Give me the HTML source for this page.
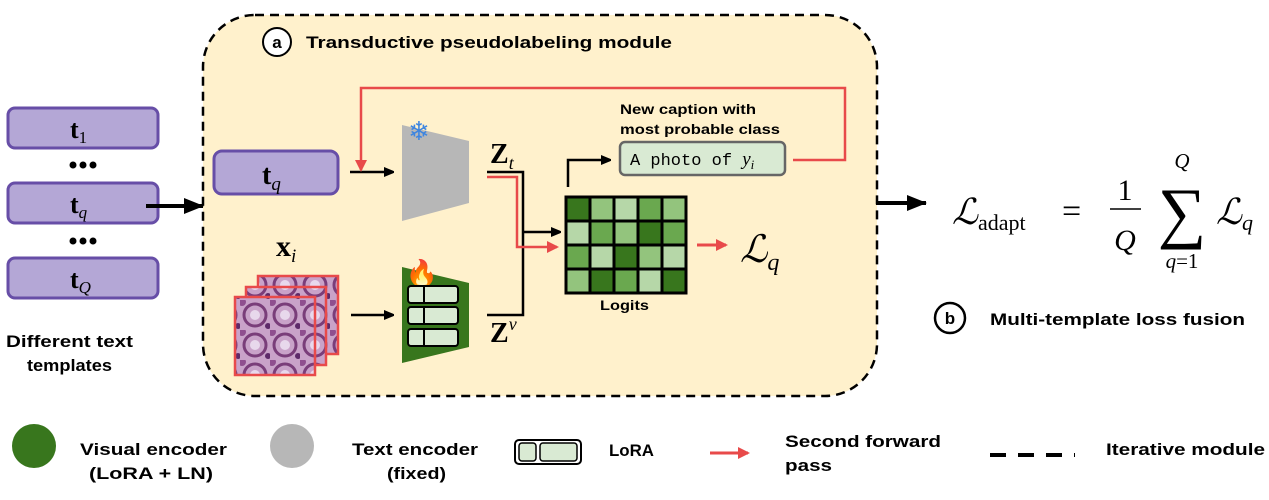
<!DOCTYPE html>
<html><head><meta charset="utf-8"><style>
html,body{margin:0;padding:0;background:#fff;}
svg{display:block;}
.s{font-family:"Liberation Sans",sans-serif;font-weight:bold;}
.m{font-family:"Liberation Serif",serif;}
</style></head><body>
<svg width="1269" height="500" viewBox="0 0 1269 500" xmlns="http://www.w3.org/2000/svg">
<defs>
<marker id="ab" markerWidth="10" markerHeight="10" refX="9" refY="5" orient="auto" markerUnits="userSpaceOnUse"><path d="M0,0 L12,5 L0,10Z" fill="#000"/></marker>
<marker id="ar" markerWidth="12" markerHeight="12" refX="10" refY="6" orient="auto" markerUnits="userSpaceOnUse"><path d="M0,0 L12,6 L0,12Z" fill="#e84a4a"/></marker>
<marker id="abig" markerWidth="20" markerHeight="20" refX="19" refY="10" orient="auto" markerUnits="userSpaceOnUse"><path d="M0,2 L20,10 L0,18Z" fill="#000"/></marker>
<pattern id="tis" width="30" height="30" patternUnits="userSpaceOnUse">
<rect width="30" height="30" fill="#c9a2c9"/>
<circle cx="15" cy="15" r="11" fill="none" stroke="#7a3d7a" stroke-width="3"/>
<circle cx="15" cy="15" r="5" fill="#e8d8ec"/>
<circle cx="2" cy="2" r="4" fill="#8f4f8f"/>
<circle cx="28" cy="26" r="3" fill="#5e2a6a"/>
</pattern>
</defs>
<rect x="203" y="15" width="674" height="381" rx="52" fill="#fff1cc" stroke="#000" stroke-width="2.5" stroke-dasharray="9,6"/>
<circle cx="277" cy="42" r="14" fill="#fff" stroke="#000" stroke-width="2"/>
<text x="277" y="48" class="s" font-size="17" text-anchor="middle">a</text>
<text x="306" y="48" class="s" font-size="17" textLength="366" lengthAdjust="spacingAndGlyphs">Transductive pseudolabeling module</text>

<g fill="#b4a7d6" stroke="#674ea7" stroke-width="3">
<rect x="8" y="108" width="150" height="40" rx="7"/>
<rect x="8" y="183" width="150" height="40" rx="7"/>
<rect x="8" y="258" width="150" height="40" rx="7"/>
</g>
<text x="70" y="138" class="m" font-size="26" font-weight="bold">t<tspan font-size="17" font-weight="normal" dy="5">1</tspan></text>
<text x="70" y="213" class="m" font-size="26" font-weight="bold">t<tspan font-size="17" font-style="italic" font-weight="normal" dy="5">q</tspan></text>
<text x="70" y="288" class="m" font-size="26" font-weight="bold">t<tspan font-size="17" font-style="italic" font-weight="normal" dy="5">Q</tspan></text>
<g fill="#000"><circle cx="73" cy="165" r="3.5"/><circle cx="83" cy="165" r="3.5"/><circle cx="93" cy="165" r="3.5"/>
<circle cx="73" cy="241" r="3.5"/><circle cx="83" cy="241" r="3.5"/><circle cx="93" cy="241" r="3.5"/></g>
<text x="6" y="347" class="s" font-size="17" textLength="127" lengthAdjust="spacingAndGlyphs">Different text</text>
<text x="27" y="371" class="s" font-size="17" textLength="85" lengthAdjust="spacingAndGlyphs">templates</text>
<line x1="146" y1="206" x2="203" y2="206" stroke="#000" stroke-width="4" marker-end="url(#abig)"/>

<rect x="214" y="151" width="124" height="43" rx="8" fill="#b4a7d6" stroke="#674ea7" stroke-width="3"/>
<text x="262" y="184" class="m" font-size="28" font-weight="bold">t<tspan font-size="19" font-style="italic" font-weight="normal" dy="6">q</tspan></text>
<line x1="350" y1="172" x2="393" y2="172" stroke="#000" stroke-width="2.5" marker-end="url(#ab)"/>
<polyline points="793,160 845,160 845,88 361,88 361,170" fill="none" stroke="#e84a4a" stroke-width="2.5" marker-end="url(#ar)"/>
<polygon points="402,125 469,141 469,203 402,221" fill="#b7b7b7"/>
<text x="419" y="140" font-size="26" fill="#3d85e0" text-anchor="middle" font-family="DejaVu Sans">❄</text>
<text x="490" y="163" class="m" font-size="28" font-weight="bold">Z<tspan font-size="18" font-style="italic" font-weight="normal" dy="6">t</tspan></text>
<polygon points="402,267 469,283 469,347 402,363" fill="#38761d"/>
<text x="422" y="282" font-size="26" text-anchor="middle" font-family="DejaVu Sans" fill="#f05a22">🔥</text>
<g fill="#d9ead3" stroke="#000" stroke-width="2">
<rect x="408" y="286" width="50" height="17" rx="3"/><line x1="424" y1="286" x2="424" y2="303"/>
<rect x="408" y="307" width="50" height="17" rx="3"/><line x1="424" y1="307" x2="424" y2="324"/>
<rect x="408" y="329" width="50" height="17" rx="3"/><line x1="424" y1="329" x2="424" y2="346"/>
</g>
<text x="490" y="342" class="m" font-size="28" font-weight="bold">Z<tspan font-size="18" font-style="italic" font-weight="normal" dy="-12">v</tspan></text>
<text x="276" y="256" class="m" font-size="30" font-weight="bold">x<tspan font-size="19" font-style="italic" font-weight="normal" dy="6">i</tspan></text>
<rect x="258" y="276" width="80" height="78" fill="url(#tis)" stroke="#e84a4a" stroke-width="2.5"/>
<rect x="246" y="287" width="80" height="78" fill="url(#tis)" stroke="#e84a4a" stroke-width="2.5"/>
<rect x="235" y="297" width="80" height="78" fill="url(#tis)" stroke="#e84a4a" stroke-width="2.5"/>
<line x1="351" y1="315" x2="393" y2="315" stroke="#000" stroke-width="2.5" marker-end="url(#ab)"/>
<polyline points="487,172 523,172 523,315 487,315" fill="none" stroke="#000" stroke-width="2.5"/>
<line x1="523" y1="232" x2="560" y2="232" stroke="#000" stroke-width="2.5" marker-end="url(#ab)"/>
<polyline points="487,177 517,177 517,247 557,247" fill="none" stroke="#e84a4a" stroke-width="2.5" marker-end="url(#ar)"/>
<polyline points="568,187 568,160 610,160" fill="none" stroke="#000" stroke-width="2.5" marker-end="url(#ab)"/>
<text x="620" y="114" class="s" font-size="14" textLength="136" lengthAdjust="spacingAndGlyphs">New caption with</text>
<text x="620" y="134" class="s" font-size="14" textLength="160" lengthAdjust="spacingAndGlyphs">most probable class</text>
<rect x="620" y="142" width="165" height="33" rx="5" fill="#d9ead3" stroke="#666" stroke-width="2.5"/>
<text x="630" y="165" font-family="Liberation Mono,monospace" font-size="17">A photo of <tspan class="m" font-style="italic" font-size="19">y</tspan><tspan class="m" font-style="italic" font-size="13" dy="4">i</tspan></text>
<g stroke="#000" stroke-width="3">
<rect x="566" y="197" width="24" height="24" fill="#38761d"/><rect x="590" y="197" width="24" height="24" fill="#93c47d"/><rect x="614" y="197" width="24" height="24" fill="#b6d7a8"/><rect x="638" y="197" width="24" height="24" fill="#6aa84f"/><rect x="662" y="197" width="24" height="24" fill="#93c47d"/>
<rect x="566" y="221" width="24" height="24" fill="#b6d7a8"/><rect x="590" y="221" width="24" height="24" fill="#6aa84f"/><rect x="614" y="221" width="24" height="24" fill="#93c47d"/><rect x="638" y="221" width="24" height="24" fill="#38761d"/><rect x="662" y="221" width="24" height="24" fill="#6aa84f"/>
<rect x="566" y="245" width="24" height="24" fill="#6aa84f"/><rect x="590" y="245" width="24" height="24" fill="#b6d7a8"/><rect x="614" y="245" width="24" height="24" fill="#38761d"/><rect x="638" y="245" width="24" height="24" fill="#93c47d"/><rect x="662" y="245" width="24" height="24" fill="#b6d7a8"/>
<rect x="566" y="269" width="24" height="24" fill="#93c47d"/><rect x="590" y="269" width="24" height="24" fill="#38761d"/><rect x="614" y="269" width="24" height="24" fill="#6aa84f"/><rect x="638" y="269" width="24" height="24" fill="#b6d7a8"/><rect x="662" y="269" width="24" height="24" fill="#38761d"/>
</g>
<text x="600" y="310" class="s" font-size="14" textLength="49" lengthAdjust="spacingAndGlyphs">Logits</text>
<line x1="697" y1="245" x2="726" y2="245" stroke="#e84a4a" stroke-width="3" marker-end="url(#ar)"/>
<text x="740" y="262" class="m" font-size="38" font-style="italic">ℒ<tspan font-size="24" dy="8">q</tspan></text>

<line x1="876" y1="203" x2="926" y2="203" stroke="#000" stroke-width="4" marker-end="url(#abig)"/>
<text x="952" y="224" class="m" font-size="36" font-style="italic">ℒ<tspan font-size="22" font-style="normal" dy="6">adapt</tspan></text>
<text x="1062" y="222" class="m" font-size="34">=</text>
<text x="1125" y="200" class="m" font-size="30" text-anchor="middle">1</text>
<line x1="1110" y1="209" x2="1141" y2="209" stroke="#000" stroke-width="1.5"/>
<text x="1125" y="250" class="m" font-size="30" font-style="italic" text-anchor="middle">Q</text>
<text x="1182" y="235" class="m" font-size="68" text-anchor="middle">∑</text>
<text x="1182" y="168" class="m" font-size="21" font-style="italic" text-anchor="middle">Q</text>
<text x="1182" y="268" class="m" font-size="21" text-anchor="middle"><tspan font-style="italic">q</tspan>=1</text>
<text x="1216" y="224" class="m" font-size="36" font-style="italic">ℒ<tspan font-size="22" dy="6">q</tspan></text>
<circle cx="950" cy="318" r="15" fill="#fff" stroke="#000" stroke-width="2.5"/>
<text x="950" y="324" class="s" font-size="17" text-anchor="middle">b</text>
<text x="990" y="325" class="s" font-size="17" textLength="255" lengthAdjust="spacingAndGlyphs">Multi-template loss fusion</text>

<ellipse cx="34" cy="446" rx="22" ry="22" fill="#38761d"/>
<text x="80" y="455" class="s" font-size="17" textLength="147" lengthAdjust="spacingAndGlyphs">Visual encoder</text>
<text x="89" y="479" class="s" font-size="17" textLength="124" lengthAdjust="spacingAndGlyphs">(LoRA + LN)</text>
<ellipse cx="292" cy="446" rx="22" ry="22" fill="#b7b7b7"/>
<text x="352" y="455" class="s" font-size="17" textLength="126" lengthAdjust="spacingAndGlyphs">Text encoder</text>
<text x="387" y="479" class="s" font-size="17" textLength="59" lengthAdjust="spacingAndGlyphs">(fixed)</text>
<rect x="515" y="440" width="66" height="24" rx="4" fill="#fff" stroke="#000" stroke-width="2"/>
<rect x="519" y="443" width="17" height="18" rx="3" fill="#d9ead3" stroke="#000" stroke-width="1.5"/>
<rect x="540" y="443" width="37" height="18" rx="3" fill="#d9ead3" stroke="#000" stroke-width="1.5"/>
<text x="609" y="456" class="s" font-size="17" textLength="45" lengthAdjust="spacingAndGlyphs">LoRA</text>
<line x1="710" y1="453" x2="748" y2="453" stroke="#e84a4a" stroke-width="3" marker-end="url(#ar)"/>
<text x="785" y="447" class="s" font-size="17" textLength="156" lengthAdjust="spacingAndGlyphs">Second forward</text>
<text x="785" y="471" class="s" font-size="17" textLength="47" lengthAdjust="spacingAndGlyphs">pass</text>
<line x1="990" y1="455" x2="1075" y2="455" stroke="#000" stroke-width="4" stroke-dasharray="16,12"/>
<text x="1106" y="455" class="s" font-size="17" textLength="159" lengthAdjust="spacingAndGlyphs">Iterative module</text>
</svg>
</body></html>
